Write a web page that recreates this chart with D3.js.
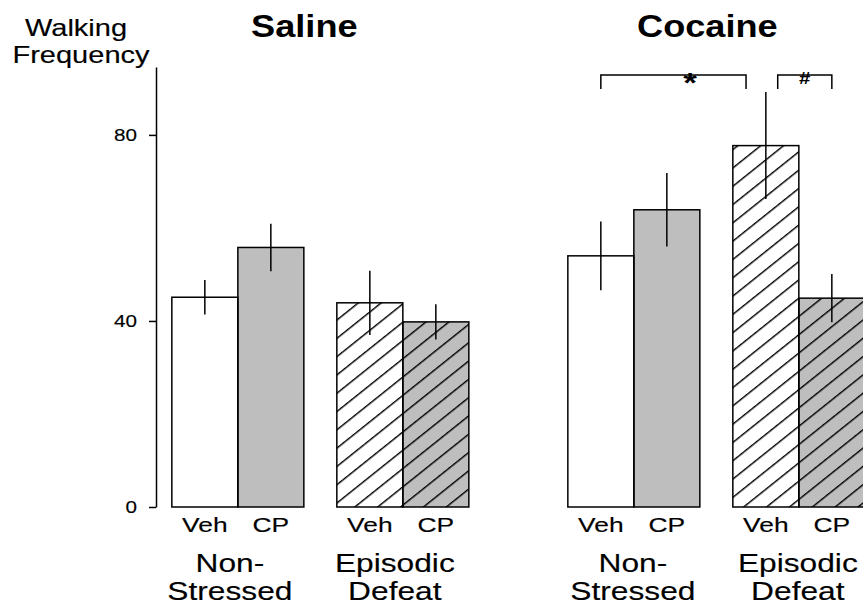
<!DOCTYPE html>
<html>
<head>
<meta charset="utf-8">
<script src="https://cdn.jsdelivr.net/npm/d3@7"></script>
<style>
  html, body { margin: 0; padding: 0; background: #fff; }
  svg { display: block; font-family: "Liberation Sans", Arial, Helvetica, sans-serif; }
</style>
</head>
<body>
<svg id="chart" width="863" height="607"></svg>
<script>
// ---------------- data ----------------
const panels = ["Saline", "Cocaine"];
const groupLabels = [["Non-", "Stressed"], ["Episodic", "Defeat"]];
const treatments = ["Veh", "CP"];
const salineMeans = [45.1, 55.8, 43.9, 39.8];
const salineErrors = [3.7, 5.1, 6.9, 3.8];
const cocaineMeans = [54.0, 63.9, 77.7, 44.9];
const cocaineErrors = [7.4, 7.9, 11.5, 5.2];
const yTicks = [0, 40, 80];
const yLabel = ["Walking", "Frequency"];
const bracketFrom = [6.74, 9.42];
const bracketTo = [8.94, 10.24];
const bracketLabels = ["*", "#"];

// ---------------- layout ----------------
const svg = d3.select("#chart");
const yMax = 94.6;
const y = d3.scaleLinear().domain([0, yMax]).range([507, 67]);
const x = d3.scaleLinear().domain([0, 1]).range([156, 222]); // slot units
const font = "'Liberation Sans', Arial, Helvetica, sans-serif";

function stext(str, px, py, size, sx, anchor, weight) {
  const t = svg.append("text")
    .attr("transform", `translate(${px},${py}) scale(${sx},1)`)
    .attr("text-anchor", anchor)
    .attr("font-size", size)
    .attr("font-weight", weight || "normal")
    .attr("font-family", font)
    .attr("fill", "#000")
    .text(str);
  if (!weight) t.attr("stroke", "#000").attr("stroke-width", 0.15);
  return t;
}

// hatch pattern (45deg hatching stretched horizontally)
const defs = svg.append("defs");
const pat = defs.append("pattern")
  .attr("id", "hatch")
  .attr("patternUnits", "userSpaceOnUse")
  .attr("width", 40).attr("height", 12.94)
  .attr("patternTransform", "translate(0,3) scale(1.25,1) rotate(-45)");
pat.append("line")
  .attr("x1", -5).attr("x2", 45).attr("y1", 0.7).attr("y2", 0.7)
  .attr("stroke", "#000").attr("stroke-width", 1.25);

// build bar table
const bars = [];
const allMeans = [salineMeans, cocaineMeans];
const allErrors = [salineErrors, cocaineErrors];
panels.forEach((p, pi) => {
  groupLabels.forEach((g, gi) => {
    treatments.forEach((t, ti) => {
      const k = gi * 2 + ti;
      bars.push({
        panel: pi, group: gi, treat: ti,
        slot: 0.24 + pi * 6 + gi * 2.5 + ti,
        mean: allMeans[pi][k], err: allErrors[pi][k]
      });
    });
  });
});

// bars
const barG = svg.append("g");
barG.selectAll("rect.fill").data(bars).enter().append("rect")
  .attr("x", d => x(d.slot)).attr("width", x(1) - x(0))
  .attr("y", d => y(d.mean)).attr("height", d => y(0) - y(d.mean))
  .attr("fill", d => d.treat === 1 ? "#bebebe" : "#ffffff");
barG.selectAll("rect.hatch").data(bars.filter(d => d.group === 1)).enter().append("rect")
  .attr("x", d => x(d.slot)).attr("width", x(1) - x(0))
  .attr("y", d => y(d.mean)).attr("height", d => y(0) - y(d.mean))
  .attr("fill", "url(#hatch)");
barG.selectAll("rect.outline").data(bars).enter().append("rect")
  .attr("x", d => x(d.slot)).attr("width", x(1) - x(0))
  .attr("y", d => y(d.mean)).attr("height", d => y(0) - y(d.mean))
  .attr("fill", "none").attr("stroke", "#000").attr("stroke-width", 1.5);

// error bars
barG.selectAll("line.err").data(bars).enter().append("line")
  .attr("x1", d => x(d.slot + 0.5)).attr("x2", d => x(d.slot + 0.5))
  .attr("y1", d => y(d.mean + d.err)).attr("y2", d => y(d.mean - d.err))
  .attr("stroke", "#000").attr("stroke-width", 1.5);

// y axis
const axisG = svg.append("g").attr("transform", `translate(${x(0)},0)`)
  .call(d3.axisLeft(y).tickValues(yTicks).tickSize(7).tickSizeOuter(0).tickFormat(d3.format("d")));
axisG.select(".domain").attr("stroke", "#000").attr("stroke-width", 1.5);
axisG.selectAll(".tick line").attr("stroke", "#000").attr("stroke-width", 1.5);
axisG.selectAll(".tick text")
  .attr("x", 0).attr("dy", "0.36em")
  .attr("transform", "translate(-19,0) scale(1.29,1)")
  .attr("font-size", 16).attr("font-family", font).attr("fill", "#000")
  .attr("stroke", "#000").attr("stroke-width", 0.15);

// y label
stext(yLabel[0], 76, 36, 24, 1.21, "middle");
stext(yLabel[1], 81, 63, 24, 1.21, "middle");

// panel titles
const titleOffset = [-16, -9];
panels.forEach((p, pi) => {
  const cx = x(0.24 + pi * 6 + 2.25) + titleOffset[pi];
  stext(p, cx, 37, 32, 1.13, "middle", "bold");
});

// treatment labels
bars.forEach(d => {
  stext(treatments[d.treat], x(d.slot + 0.5), 532, 20, 1.32, "middle");
});

// group labels
const groupOffset = [-8, -1];
panels.forEach((p, pi) => {
  groupLabels.forEach((g, gi) => {
    const cx = x(0.24 + pi * 6 + gi * 2.5 + 1) + groupOffset[pi];
    stext(g[0], cx, 572, 26, 1.22, "middle");
    stext(g[1], cx, 600, 26, 1.22, "middle");
  });
});

// significance brackets
bracketLabels.forEach((lab, i) => {
  const x1 = x(bracketFrom[i]), x2 = x(bracketTo[i]);
  svg.append("path")
    .attr("d", `M${x1},89 V75 H${x2} V89`)
    .attr("fill", "none").attr("stroke", "#000").attr("stroke-width", 1.5);
});
stext(bracketLabels[0], 690, 92, 28, 1.25, "middle", "bold");
stext(bracketLabels[1], x((bracketFrom[1] + bracketTo[1]) / 2), 84, 17, 1.2, "middle", "bold");
</script>
</body>
</html>
